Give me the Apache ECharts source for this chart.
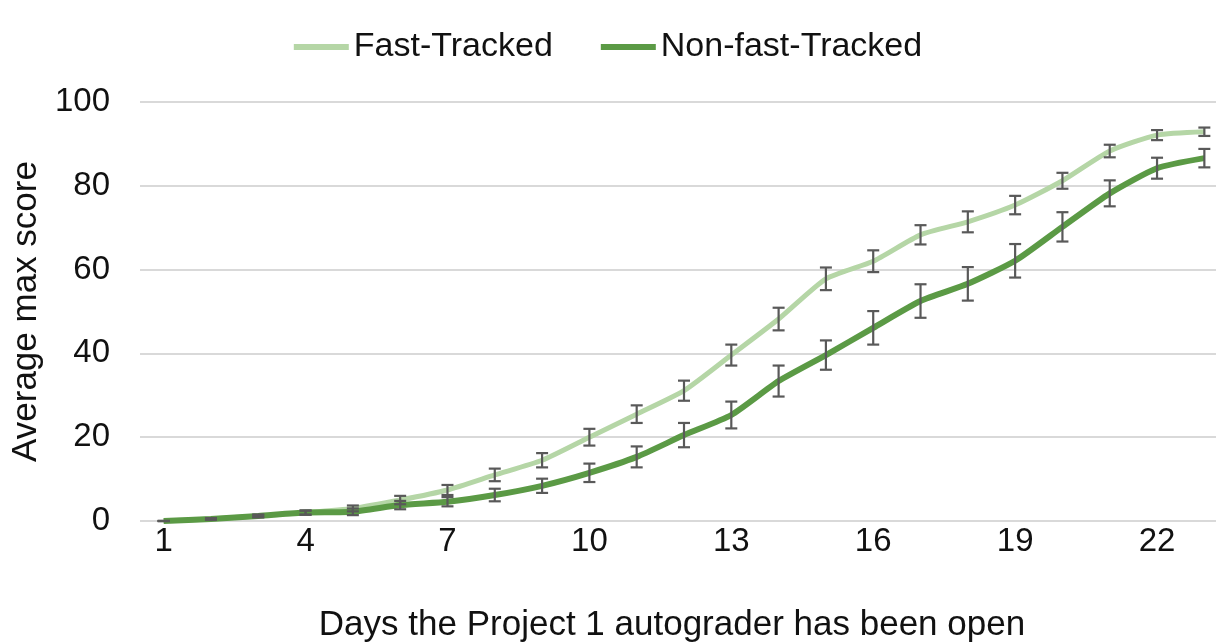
<!DOCTYPE html>
<html><head><meta charset="utf-8">
<script src="https://cdn.jsdelivr.net/npm/echarts@6/dist/echarts.min.js"></script>
<style>html,body{margin:0;padding:0;background:#fff}#c{width:1216px;height:644px}</style>
</head><body><div id="c"></div>
<script>
const days = ['1','2','3','4','5','6','7','8','9','10','11','12','13','14','15','16','17','18','19','20','21','22','23'];
const fastTracked = [0, 0.5, 1.2, 2.0, 3.0, 5.0, 7.4, 11.0, 14.5, 20.0, 25.5, 31.1, 39.6, 48.2, 57.8, 62.0, 68.3, 71.4, 75.4, 81.2, 88.3, 92.1, 92.9];
const fastErr = [0, 0.2, 0.3, 0.5, 0.7, 1.0, 1.2, 1.5, 1.7, 2.0, 2.1, 2.4, 2.5, 2.7, 2.7, 2.6, 2.3, 2.5, 2.2, 1.9, 1.5, 1.2, 1.0];
const nonFast = [0, 0.5, 1.2, 2.0, 2.2, 3.8, 4.6, 6.2, 8.4, 11.5, 15.3, 20.5, 25.3, 33.4, 39.6, 46.1, 52.5, 56.6, 62.1, 70.2, 78.2, 84.2, 86.6];
const nonFastErr = [0, 0.2, 0.3, 0.5, 0.8, 1.0, 1.1, 1.5, 1.7, 2.2, 2.5, 2.9, 3.2, 3.7, 3.5, 4.0, 4.0, 4.0, 4.0, 3.5, 3.1, 2.5, 2.2];
const yTicks = [0, 20, 40, 60, 80, 100];

const FONT = 'Liberation Sans, Arial, Helvetica, sans-serif';
function errData(vals, errs){ return vals.map((v,i)=>[i, v-errs[i], v+errs[i]]); }
function errRender(params, api){
  const x = api.value(0);
  const lo = api.coord([x, api.value(1)]);
  const hi = api.coord([x, api.value(2)]);
  const w = 6;
  const st = {stroke:'#595959', lineWidth:2.2, fill:null};
  return {type:'group', children:[
    {type:'line', shape:{x1:lo[0],y1:lo[1],x2:hi[0],y2:hi[1]}, style:st},
    {type:'line', shape:{x1:lo[0]-w,y1:lo[1],x2:lo[0]+w,y2:lo[1]}, style:st},
    {type:'line', shape:{x1:hi[0]-w,y1:hi[1],x2:hi[0]+w,y2:hi[1]}, style:st}
  ]};
}
const chart = echarts.init(document.getElementById('c'), null, {renderer:'canvas'});
chart.setOption({
  animation:false,
  backgroundColor:'#fff',
  legend:{
    top:25, left:'center', itemWidth:55, itemHeight:6, itemGap:48,
    icon:'rect',
    textStyle:{fontFamily:FONT, fontSize:34, color:'#111'},
    data:['Fast-Tracked','Non-fast-Tracked']
  },
  grid:{left:140, right:-12, top:102, bottom:123, containLabel:false, outerBoundsMode:'none'},
  xAxis:{
    type:'category', data:days, boundaryGap:true,
    name:'Days the Project 1 autograder has been open', nameLocation:'middle', nameGap:87,
    nameTextStyle:{fontFamily:FONT, fontSize:35, color:'#111', padding:[0,24,0,0]},
    axisLine:{show:false}, axisTick:{show:false},
    axisLabel:{interval:2, fontFamily:FONT, fontSize:33, color:'#111', margin:4}
  },
  yAxis:{
    type:'value', min:yTicks[0], max:yTicks[yTicks.length-1], interval:20,
    name:'Average max score', nameLocation:'middle', nameGap:92,
    nameTextStyle:{fontFamily:FONT, fontSize:35, color:'#111'},
    axisLine:{show:false}, axisTick:{show:false},
    axisLabel:{fontFamily:FONT, fontSize:33, color:'#111', margin:30},
    splitLine:{lineStyle:{color:'#d9d9d9', width:2}}
  },
  series:[
    {name:'Fast-Tracked', type:'line', data:fastTracked, smooth:0.2, symbol:'none',
     lineStyle:{color:'#b5d6a6', width:5}, itemStyle:{color:'#b5d6a6'}, z:3},
    {name:'Non-fast-Tracked', type:'line', data:nonFast, smooth:0.2, symbol:'none',
     lineStyle:{color:'#5b9a45', width:6}, itemStyle:{color:'#5b9a45'}, z:4},
    {type:'custom', renderItem:errRender, data:errData(fastTracked, fastErr), encode:{x:0,y:[1,2]}, z:5, silent:true},
    {type:'custom', renderItem:errRender, data:errData(nonFast, nonFastErr), encode:{x:0,y:[1,2]}, z:5, silent:true}
  ]
});
</script></body></html>
